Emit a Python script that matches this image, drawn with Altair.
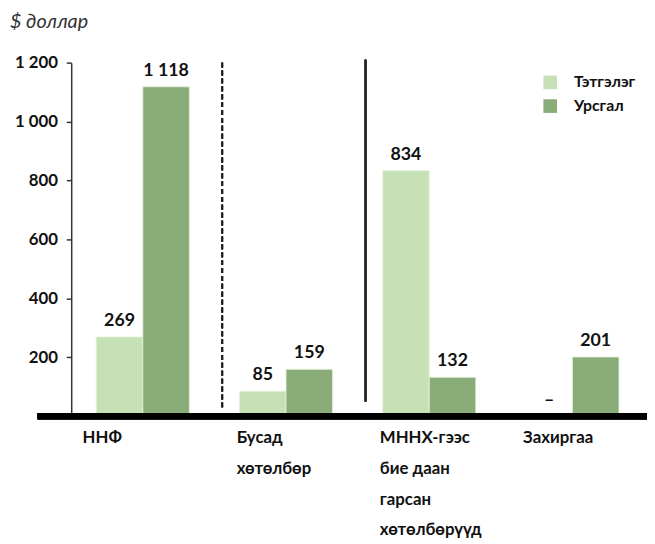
import altair as alt
import pandas as pd

categories = ["ННФ", "Бусад|хөтөлбөр", "МННХ-гээс|бие даан|гарсан|хөтөлбөрүүд", "Захиргаа"]
series = ["Тэтгэлэг", "Урсгал"]
tetgeleg = [269, 85, 834, 0]
ursgal = [1118, 159, 132, 201]
tetgeleg_labels = ["269", "85", "834", "–"]
ursgal_labels = ["1 118", "159", "132", "201"]
y_ticks = [200, 400, 600, 800, 1000, 1200]

rows = []
for c, v, l in zip(categories, tetgeleg, tetgeleg_labels):
    rows.append({"cat": c, "series": series[0], "value": v, "label": l})
for c, v, l in zip(categories, ursgal, ursgal_labels):
    rows.append({"cat": c, "series": series[1], "value": v, "label": l})
df = pd.DataFrame(rows)

FONT = "Lato, Roboto, sans-serif"
W, H = 580, 358

x = alt.X("cat:N", sort=categories, title=None,
          scale=alt.Scale(paddingInner=0.35, paddingOuter=0.175),
          axis=alt.Axis(labelExpr="split(datum.label, '|')", labelAlign="left",
                        labelBaseline="top",
                        labelOffset={"condition": {"test": "datum.value == 'ННФ'", "value": -61},
                                     "value": -50},
                        labelPadding=14,
                        labelLineHeight=31, labelFontSize=17, labelFontWeight="bold",
                        labelColor="#111", labelFont=FONT, labelAngle=0,
                        ticks=False, domain=False))
xo = alt.XOffset("series:N", sort=series)
y = alt.Y("value:Q", title=None,
          scale=alt.Scale(domain=[0, 1200], nice=False),
          axis=alt.Axis(values=y_ticks, labelExpr="replace(format(datum.value, ','), ',', ' ')",
                        labelFontSize=17, labelFontWeight="bold", labelColor="#111",
                        labelFont=FONT, labelPadding=9, tickSize=5, tickColor="#333",
                        tickWidth=1.5, domainColor="#333", domainWidth=1.5, grid=False))
color = alt.Color("series:N", sort=series,
                  scale=alt.Scale(domain=series, range=["#c6e1b5", "#89ac78"]),
                  legend=alt.Legend(title=None, orient="none", legendX=477, legendY=12,
                                    symbolType="square", symbolSize=190, symbolStrokeWidth=0,
                                    labelFontSize=16, labelFontWeight="bold", labelFont=FONT,
                                    labelColor="#111", rowPadding=8, labelOffset=16))

bars = alt.Chart(df).mark_bar(stroke="#e8f2e0", strokeWidth=0.8).encode(
    x=x, xOffset=xo, y=y, color=color)

texts = alt.Chart(df).mark_text(dy=-7, baseline="bottom", fontSize=18, fontWeight="bold",
                                font=FONT, color="#111").encode(
    x=alt.X("cat:N", sort=categories), xOffset=xo, y="value:Q", text="label:N")

dashed = alt.Chart(df).mark_rule(strokeDash=[5, 3], strokeWidth=1.5, color="#222").encode(
    x=alt.value(153), y=alt.value(0), y2=alt.value(352))
solid = alt.Chart(df).mark_rule(strokeWidth=1.5, color="#222").encode(
    x=alt.value(298), y=alt.value(-3), y2=alt.value(343))
base = alt.Chart(df).mark_rule(strokeWidth=6, color="#000").encode(
    x=alt.value(-34), x2=alt.value(590), y=alt.value(358))

chart = alt.layer(bars, texts, dashed, solid, base).properties(
    width=W, height=H,
    padding={"left": 64, "top": 52, "right": 3, "bottom": 120},
    autosize=alt.AutoSizeParams(type="none"),
    title=alt.TitleParams("$ доллар", anchor="start", frame="group", dx=-62, offset=22,
                          fontSize=20, fontStyle="italic", fontWeight="normal",
                          color="#333", font=FONT),
).configure_view(stroke=None)

chart.save("out.html", embed_options={"renderer": "svg", "actions": False})
